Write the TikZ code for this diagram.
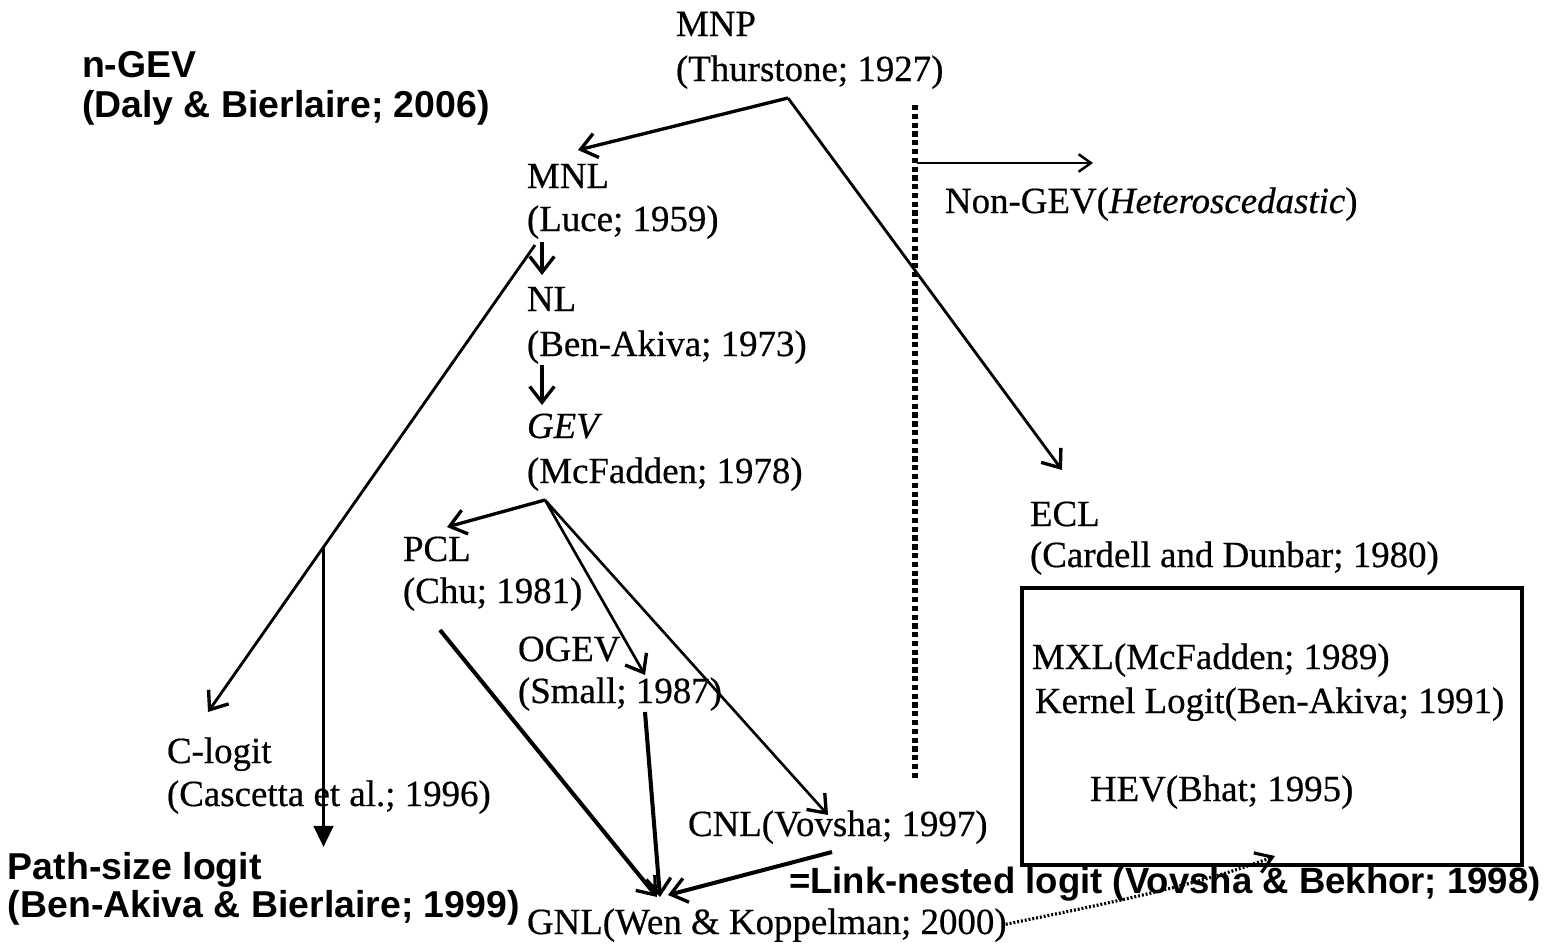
\documentclass[tikz,border=0pt]{standalone}
\usepackage{fontspec}
\setmainfont{Liberation Serif}[FakeBold=0.5]
\newfontfamily\headsans{Liberation Sans}
\usetikzlibrary{arrows.meta}
\begin{document}
\begin{tikzpicture}[x=0.02cm,y=-0.02cm,
  serif/.style={inner sep=0pt, outer sep=0pt, anchor=base west, font=\fontsize{21}{25}\selectfont},
  boldsans/.style={inner sep=0pt, outer sep=0pt, anchor=base west, font=\headsans\bfseries\fontsize{21.3}{25}\selectfont},
  barb/.style={line width=1.9pt, -{Straight Barb[length=9pt,width=14pt,line width=1.9pt]}},
  thinbarb/.style={line width=1.3pt, -{Straight Barb[length=7pt,width=10pt,line width=1.4pt]}},
  solidtip/.style={line width=2pt, -{Triangle[length=12pt,width=11pt]}},
  dotline/.style={line width=3.4pt, dash pattern=on 3pt off 2pt},
  fineline/.style={line width=1.8pt, dash pattern=on 1.1pt off 1.1pt, -{Straight Barb[length=9pt,width=12pt,line width=1.8pt]}}
]
\useasboundingbox (0,0) rectangle (1552,948);

% ---- labels in the serif face ----
\node[serif] (mnp)    at (676,36)  {MNP};
\node[serif] (mnpy)   at (676,81)  {(Thurstone; 1927)};
\node[serif] (mnl)    at (527,188) {MNL};
\node[serif] (mnly)   at (527,231) {(Luce; 1959)};
\node[serif] (nl)     at (527,311) {NL};
\node[serif] (nly)    at (527,356) {(Ben-Akiva; 1973)};
\node[serif] (gev)    at (527,438) {\textit{GEV}};
\node[serif] (gevy)   at (527,483) {(McFadden; 1978)};
\node[serif] (pcl)    at (403,561) {PCL};
\node[serif] (pcly)   at (403,603) {(Chu; 1981)};
\node[serif] (ogev)   at (518,661) {OGEV};
\node[serif] (ogevy)  at (518,703) {(Small; 1987)};
\node[serif] (clog)   at (167,763) {C-logit};
\node[serif] (clogy)  at (167,806) {(Cascetta et al.; 1996)};
\node[serif] (cnl)    at (688,836) {CNL(Vovsha; 1997)};
\node[serif] (gnl)    at (527,934) {GNL(Wen \& Koppelman; 2000)};
\node[serif] (ecl)    at (1030,526) {ECL};
\node[serif] (ecly)   at (1030,567) {(Cardell and Dunbar; 1980)};
\node[serif] (nongev) at (945,213) {Non-GEV(\textit{Heteroscedastic})};

% ---- mixed-logit family box ----
\node[draw, line width=2.2pt, inner sep=0pt, outer sep=0pt, minimum width=10cm,
      minimum height=5.54cm, anchor=north west] (box) at (1022,588) {};
\node[serif] (mxl)    at (1032,669) {MXL(McFadden; 1989)};
\node[serif] (kernel) at (1035,713) {Kernel Logit(Ben-Akiva; 1991)};
\node[serif] (hev)    at (1090,801) {HEV(Bhat; 1995)};

% ---- added labels in bold sans ----
\node[boldsans] (ngev)  at (82,77)   {n-GEV};
\node[boldsans] (ngevy) at (82,117)  {(Daly \& Bierlaire; 2006)};
\node[boldsans] (ps)    at (8,879)   {Path-size logit};
\node[boldsans] (psy)   at (8,917)   {(Ben-Akiva \& Bierlaire; 1999)};
\node[boldsans, font=\headsans\bfseries\fontsize{20.8}{25}\selectfont] (lnl) at (789,893)
  {=Link-nested logit (Vovsha \& Bekhor; 1998)};

% ---- connector end points ----
\coordinate (mnpO)   at (788,98);
\coordinate (mnlI)   at (578,150);
\coordinate (eclI)   at (1062,470);
\coordinate (sepTop) at (915,105);
\coordinate (sepBot) at (915,780);
\coordinate (ngA)    at (917,163);
\coordinate (ngB)    at (1093,163);
\coordinate (mnlO)   at (542,242);
\coordinate (nlI)    at (542,275);
\coordinate (nlO)    at (542,365);
\coordinate (gevI)   at (542,405);
\coordinate (mnlC)   at (535,245);
\coordinate (clogI)  at (208,712);
\coordinate (split)  at (323.5,547);
\coordinate (psI)    at (323.5,847);
\coordinate (gevO)   at (545,500);
\coordinate (pclI)   at (447,527);
\coordinate (ogevI)  at (645,675);
\coordinate (cnlI)   at (828,815);
\coordinate (pclO)   at (440,630);
\coordinate (ogevO)  at (645,712);
\coordinate (cnlO)   at (832,852);
\coordinate (gnlA)   at (657,897);
\coordinate (gnlB)   at (660,897);
\coordinate (gnlC)   at (668,895);
\coordinate (gnlO)   at (1002,925);
\coordinate (boxI)   at (1275,856);

% ---- connectors ----
\draw[barb] (mnpO) -- (mnlI);
\draw[barb, line width=1.6pt] (mnpO) -- (eclI);
\draw[dotline] (sepTop) -- (sepBot);
\draw[thinbarb] (ngA) -- (ngB);
\draw[barb] (mnlO) -- (nlI);
\draw[barb] (nlO) -- (gevI);
\draw[barb, line width=1.6pt] (mnlC) -- (clogI);
\draw[solidtip] (split) -- (psI);
\draw[barb] (gevO) -- (pclI);
\draw[barb, line width=1.5pt] (gevO) -- (ogevI);
\draw[barb, line width=1.5pt] (gevO) -- (cnlI);
\draw[barb, line width=2.3pt] (pclO) -- (gnlA);
\draw[barb, line width=2.3pt] (ogevO) -- (gnlB);
\draw[barb, line width=2.3pt] (cnlO) -- (gnlC);
\draw[fineline] (gnlO) .. controls (1100,905) and (1200,885) .. (boxI);
\end{tikzpicture}
\end{document}
